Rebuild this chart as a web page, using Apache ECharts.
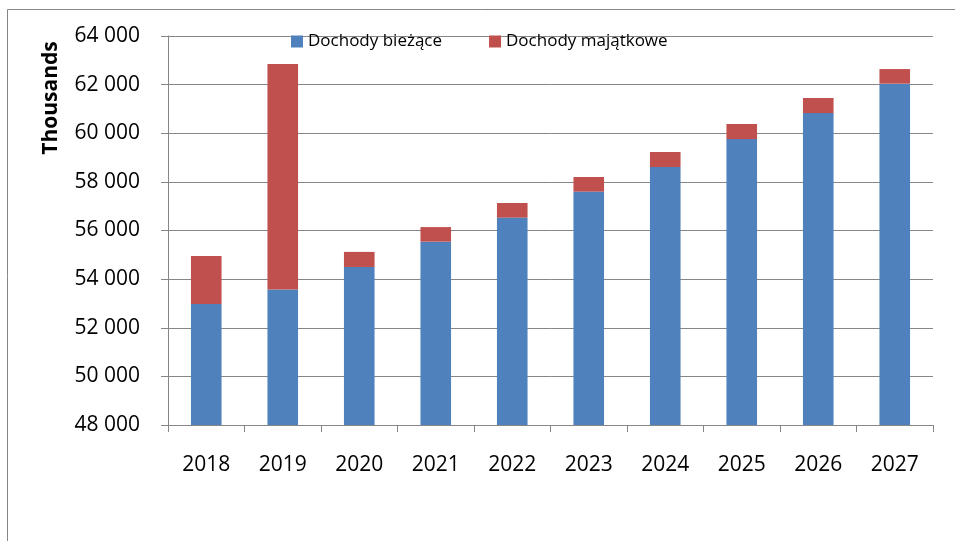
<!DOCTYPE html>
<html>
<head>
<meta charset="utf-8">
<script src="https://cdn.jsdelivr.net/npm/echarts@6/dist/echarts.min.js"></script>
<style>
  html, body { margin: 0; padding: 0; background: #fff; }
  #chart { width: 955px; height: 541px; }
</style>
</head>
<body>
<div id="chart"></div>
<script>
// lata i wartości (tys.)
const years = ["2018", "2019", "2020", "2021", "2022", "2023", "2024", "2025", "2026", "2027"];
const dochodyBiezace = [52980, 53570, 54500, 55540, 56530, 57600, 58610, 59760, 60830, 62040];
const dochodyMajatkowe = [1970, 9280, 620, 600, 600, 600, 620, 620, 620, 600];
const yTicks = { min: 48000, max: 64000, interval: 2000 };

const axisGray = "#868686";
const font = "'Open Sans', sans-serif";

const chart = echarts.init(document.getElementById("chart"));
chart.setOption({
  animation: false,
  backgroundColor: "#fff",
  graphic: [
    {
      type: "rect",
      shape: { x: 7.5, y: 9.5, width: 1000, height: 600 },
      style: { fill: "none", stroke: axisGray, lineWidth: 1 },
      silent: true,
    },
  ],
  legend: {
    data: ["Dochody bieżące", "Dochody majątkowe"],
    left: 286,
    top: 28,
    itemWidth: 12,
    itemHeight: 12,
    itemGap: 47,
    icon: "rect",
    textStyle: { fontFamily: font, fontSize: 17, color: "#000" },
  },
  grid: { left: 168, right: 22, top: 36, bottom: 116 },
  xAxis: {
    type: "category",
    data: years,
    axisLine: { lineStyle: { color: axisGray } },
    axisTick: { show: true, length: 7, lineStyle: { color: axisGray } },
    axisLabel: { margin: 30, fontFamily: font, fontSize: 21, color: "#000" },
  },
  yAxis: {
    type: "value",
    min: yTicks.min,
    max: yTicks.max,
    interval: yTicks.interval,
    name: "Thousands",
    nameLocation: "middle",
    nameGap: 106,
    nameTextStyle: {
      fontFamily: font,
      fontSize: 21,
      fontWeight: "bold",
      color: "#000",
      padding: [0, 0, 0, 265],
    },
    axisLine: { show: true, lineStyle: { color: axisGray } },
    axisTick: { show: true, length: 7, lineStyle: { color: axisGray } },
    splitLine: { lineStyle: { color: axisGray } },
    axisLabel: {
      margin: 28,
      fontFamily: font,
      fontSize: 21,
      color: "#000",
      formatter: (v) => String(v).replace(/\B(?=(\d{3})+(?!\d))/g, " "),
    },
  },
  series: [
    {
      name: "Dochody bieżące",
      type: "bar",
      stack: "razem",
      barWidth: "40%",
      itemStyle: { color: "#4F81BD" },
      data: dochodyBiezace,
    },
    {
      name: "Dochody majątkowe",
      type: "bar",
      stack: "razem",
      barWidth: "40%",
      itemStyle: { color: "#C0504D" },
      data: dochodyMajatkowe,
    },
  ],
});
</script>
</body>
</html>
